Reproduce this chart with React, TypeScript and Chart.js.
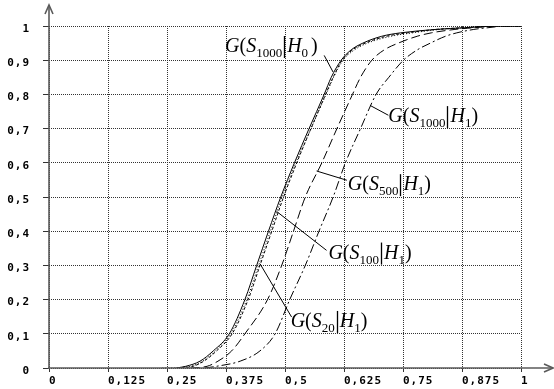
import React, { useEffect, useRef } from "react";
import { Chart, registerables } from "chart.js";

Chart.register(...registerables);

// probability levels shared by all curves
const yLevels = [0, 0.005, 0.02, 0.05, 0.1, 0.2, 0.3, 0.4, 0.5, 0.6, 0.7, 0.8, 0.85, 0.9, 0.93, 0.95, 0.97, 0.98, 0.99, 0.995, 1, 1];

// x values (threshold) for each curve at the levels above
const xS1000H0 = [0.27, 0.29, 0.32, 0.348, 0.382, 0.415, 0.44, 0.465, 0.491, 0.52, 0.551, 0.583, 0.598, 0.619, 0.64, 0.665, 0.705, 0.745, 0.82, 0.88, 0.95, 1];
const xS20H1 = [0.24, 0.3, 0.325, 0.352, 0.385, 0.419, 0.444, 0.469, 0.494, 0.523, 0.555, 0.587, 0.603, 0.623, 0.647, 0.675, 0.725, 0.77, 0.83, 0.89, 0.96, 1];
const xS100H1 = [0.27, 0.305, 0.328, 0.355, 0.388, 0.422, 0.447, 0.472, 0.497, 0.525, 0.555, 0.586, 0.602, 0.621, 0.643, 0.67, 0.715, 0.76, 0.82, 0.88, 0.94, 1];
const xS500H1 = [0.3, 0.335, 0.358, 0.387, 0.415, 0.463, 0.493, 0.518, 0.543, 0.578, 0.61, 0.643, 0.66, 0.684, 0.71, 0.74, 0.78, 0.81, 0.86, 0.9, 0.96, 1];
const xS1000H1 = [0.33, 0.355, 0.405, 0.447, 0.479, 0.51, 0.543, 0.572, 0.602, 0.628, 0.66, 0.693, 0.72, 0.751, 0.78, 0.808, 0.84, 0.864, 0.9, 0.93, 0.97, 1];

// tick values
const xTicks = [0, 0.125, 0.25, 0.375, 0.5, 0.625, 0.75, 0.875, 1];
const yTicks = [0, 0.1, 0.2, 0.3, 0.4, 0.5, 0.6, 0.7, 0.8, 0.9, 1];

// curve labels: subscript of S, subscript of H, label anchor (x, baseline y) in data units
const labelSubS = ["1000", "1000", "500", "100", "20"];
const labelSubH = ["0", "1", "1", "1", "1"];
const labelX = [0.373, 0.719, 0.633, 0.592, 0.512];
const labelY = [0.924, 0.719, 0.52, 0.32, 0.12];

// leader lines from curve to label: [x0, y0, x1, y1]
const leaderH0 = [0.583, 0.914, 0.602, 0.865];
const leader1000 = [0.68, 0.768, 0.719, 0.739];
const leader500 = [0.567, 0.576, 0.631, 0.549];
const leader100 = [0.482, 0.458, 0.588, 0.344];
const leader20 = [0.447, 0.305, 0.514, 0.149];

const fmt = (v: number) => {
  const r = parseFloat(v.toFixed(3));
  return String(r).replace(".", ",");
};

const pts = (xs: number[]) => xs.map((x, i) => ({ x, y: yLevels[i] }));
const seg = (s: number[]) => [
  { x: s[0], y: s[1] },
  { x: s[2], y: s[3] },
];

const SERIF = '"Liberation Serif", "Times New Roman", serif';

function drawMathLabel(ctx: CanvasRenderingContext2D, x: number, y: number, subS: string, subH: string, gap: boolean) {
  const main = 20;
  const sub = 13;
  const it = `italic ${main}px ${SERIF}`;
  const up = `${main}px ${SERIF}`;
  const sb = `${sub}px ${SERIF}`;
  let cx = x;
  ctx.fillStyle = "#000";
  ctx.textAlign = "left";
  ctx.textBaseline = "alphabetic";
  const put = (t: string, font: string, dy = 0) => {
    ctx.font = font;
    ctx.fillText(t, cx, y + dy);
    cx += ctx.measureText(t).width;
  };
  put("G", it);
  put("(", up);
  put("S", it);
  put(subS, sb, 5);
  cx += 2;
  ctx.beginPath();
  ctx.strokeStyle = "#000";
  ctx.lineWidth = 1.3;
  ctx.setLineDash([]);
  ctx.moveTo(Math.round(cx) + 0.5, y - 16);
  ctx.lineTo(Math.round(cx) + 0.5, y + 6);
  ctx.stroke();
  cx += 3;
  put("H", it);
  put(subH, sb, 5);
  if (gap) cx += 3;
  put(")", up);
}

const decorPlugin = {
  id: "decor",
  beforeDraw(chart: any) {
    chart.ctx.letterSpacing = "1px";
  },
  afterDraw(chart: any) {
    const ctx: CanvasRenderingContext2D = chart.ctx;
    const xs = chart.scales.x;
    const ys = chart.scales.y;
    const x0 = Math.round(xs.getPixelForValue(0));
    const y0 = Math.round(ys.getPixelForValue(0));
    const yTop = ys.getPixelForValue(1);
    const xRight = xs.getPixelForValue(1);
    ctx.save();
    ctx.letterSpacing = "0px";
    ctx.setLineDash([]);
    ctx.strokeStyle = "#5a5a5a";
    ctx.lineWidth = 1.6;
    // y axis with arrow
    ctx.beginPath();
    ctx.moveTo(x0, y0 + 1);
    ctx.lineTo(x0, yTop - 21);
    ctx.stroke();
    ctx.beginPath();
    ctx.moveTo(x0 - 4, yTop - 12);
    ctx.lineTo(x0, yTop - 21);
    ctx.lineTo(x0 + 4, yTop - 12);
    ctx.stroke();
    // x axis with arrow
    ctx.beginPath();
    ctx.moveTo(x0 - 1, y0);
    ctx.lineTo(xRight + 32, y0);
    ctx.stroke();
    ctx.beginPath();
    ctx.moveTo(xRight + 23, y0 - 4);
    ctx.lineTo(xRight + 32, y0);
    ctx.lineTo(xRight + 23, y0 + 4);
    ctx.stroke();
    // labels
    for (let i = 0; i < labelSubS.length; i++) {
      drawMathLabel(
        ctx,
        xs.getPixelForValue(labelX[i]),
        ys.getPixelForValue(labelY[i]),
        labelSubS[i],
        labelSubH[i],
        i === 0
      );
    }
    ctx.restore();
  },
};

export default function App() {
  const ref = useRef<HTMLCanvasElement>(null);
  useEffect(() => {
    document.body.style.margin = "0";
    const curve = (data: any, dash: number[]) => ({
      data,
      borderColor: "#000",
      borderWidth: 1,
      borderDash: dash,
      pointRadius: 0,
      fill: false,
      tension: 0.35,
      cubicInterpolationMode: "monotone",
    });
    const leader = (s: number[]) => ({
      data: seg(s),
      borderColor: "#000",
      borderWidth: 1,
      pointRadius: 0,
      fill: false,
    });
    const chart = new Chart(ref.current as HTMLCanvasElement, {
      type: "scatter",
      data: {
        datasets: [
          { label: "G(S1000|H0)", ...curve(pts(xS1000H0), []) },
          { label: "G(S20|H1)", ...curve(pts(xS20H1), [1, 2]) },
          { label: "G(S100|H1)", ...curve(pts(xS100H1), [3, 2]) },
          { label: "G(S500|H1)", ...curve(pts(xS500H1), [9, 4]) },
          { label: "G(S1000|H1)", ...curve(pts(xS1000H1), [9, 3, 2, 3]) },
          { label: "l0", ...leader(leaderH0) },
          { label: "l1", ...leader(leader1000) },
          { label: "l2", ...leader(leader500) },
          { label: "l3", ...leader(leader100) },
          { label: "l4", ...leader(leader20) },
        ] as any,
      },
      options: {
        animation: false,
        responsive: false,
        devicePixelRatio: 1,
        showLine: true,
        layout: { padding: { top: 26, right: 33, left: 0, bottom: 0 } },
        plugins: { legend: { display: false }, tooltip: { enabled: false } },
        scales: {
          x: {
            type: "linear",
            min: 0,
            max: 1,
            afterBuildTicks: (s: any) => {
              s.ticks = xTicks.map((v) => ({ value: v }));
            },
            afterFit: (s: any) => {
              s.height = 21;
            },
            ticks: {
              align: "start",
              autoSkip: false,
              maxRotation: 0,
              padding: 3,
              color: "#000",
              font: { family: '"DejaVu Sans Mono", monospace', size: 11, weight: "bold" },
              callback: (v: any) => fmt(Number(v)),
            },
            grid: { color: "#333", lineWidth: 1, tickLength: 4 },
            border: { display: false, dash: [1, 1] },
          },
          y: {
            type: "linear",
            min: 0,
            max: 1,
            afterBuildTicks: (s: any) => {
              s.ticks = yTicks.map((v) => ({ value: v }));
            },
            afterFit: (s: any) => {
              s.width = 49;
            },
            ticks: {
              padding: 13,
              labelOffset: 3,
              color: "#000",
              font: { family: '"DejaVu Sans Mono", monospace', size: 11, weight: "bold" },
              callback: (v: any) => fmt(Number(v)),
            },
            grid: { color: "#333", lineWidth: 1, tickLength: 6 },
            border: { display: false, dash: [1, 1] },
          },
        },
      } as any,
      plugins: [decorPlugin],
    });
    return () => chart.destroy();
  }, []);
  return (
    <div style={{ width: 554, height: 389, background: "#fff" }}>
      <canvas ref={ref} width={554} height={389} />
    </div>
  );
}
